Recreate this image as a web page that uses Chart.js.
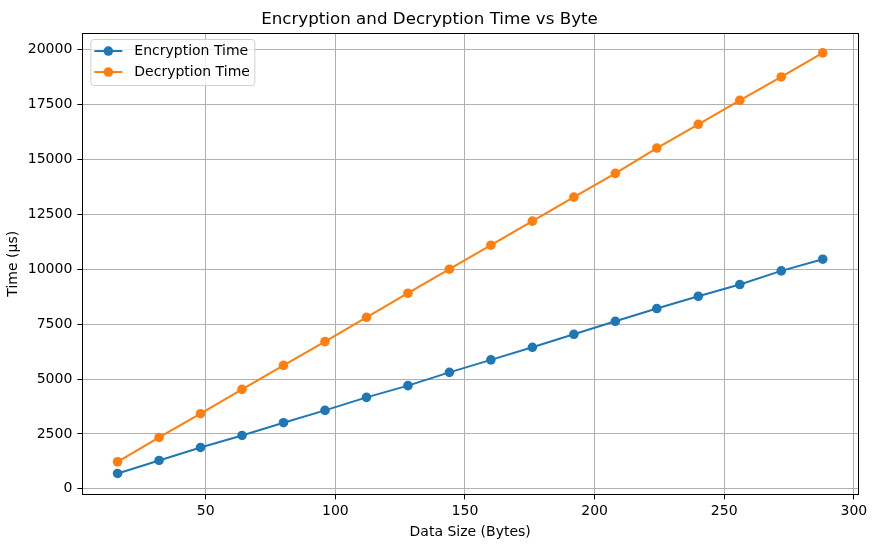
<!DOCTYPE html>
<html>
<head>
<meta charset="utf-8">
<script src="https://cdn.jsdelivr.net/npm/chart.js@4"></script>
<style>
  body { margin: 0; background: #fff; }
</style>
</head>
<body>
<canvas id="timeChart" width="877" height="547"></canvas>
<script>
// chart data
var dataSizes = [16, 32, 48, 64, 80, 96, 112, 128, 144, 160, 176, 192, 208, 224, 240, 256, 272, 288];
var encryptionTimes = [698, 1290, 1883, 2430, 3010, 3570, 4163, 4697, 5303, 5873, 6443, 7036, 7629, 8208, 8769, 9302, 9923, 10456];
var decryptionTimes = [1231, 2339, 3420, 4528, 5622, 6703, 7811, 8906, 10000, 11094, 12189, 13283, 14364, 15518, 16598, 17693, 18755, 19850];
var xTicks = [50, 100, 150, 200, 250, 300];
var yTicks = [0, 2500, 5000, 7500, 10000, 12500, 15000, 17500, 20000];

Chart.defaults.font.family = "'DejaVu Sans', sans-serif";
Chart.defaults.font.size = 14;
Chart.defaults.color = "#000";

function toPoints(values) {
    return dataSizes.map(function (s, i) {
        return { x: s, y: values[i] };
    });
}

// black frame round the plot area, like the matplotlib spines
var framePlugin = {
    id: "frame",
    afterDatasetsDraw: function (chart) {
        var a = chart.chartArea;
        var ctx = chart.ctx;
        ctx.save();
        ctx.strokeStyle = "#000";
        ctx.lineWidth = 1;
        ctx.strokeRect(Math.round(a.left) + 0.5, Math.round(a.top) + 0.5,
            Math.round(a.right - a.left), Math.round(a.bottom - a.top));
        ctx.restore();
    },
};

// legend drawn inside the plot, top left
var innerLegend = {
    id: "innerLegend",
    afterDraw: function (chart) {
        var a = chart.chartArea;
        var ctx = chart.ctx;
        var x = a.left + 8, y = a.top + 6, w = 164, h = 46;
        ctx.save();
        ctx.fillStyle = "rgba(255,255,255,0.8)";
        ctx.strokeStyle = "#d0d0d0";
        ctx.lineWidth = 1;
        ctx.beginPath();
        ctx.roundRect(x + 0.5, y + 0.5, w, h, 3);
        ctx.fill();
        ctx.stroke();
        chart.data.datasets.forEach(function (ds, i) {
            var cy = y + 12 + i * 21;
            ctx.strokeStyle = ds.borderColor;
            ctx.lineWidth = 2;
            ctx.beginPath();
            ctx.moveTo(x + 4, cy);
            ctx.lineTo(x + 32, cy);
            ctx.stroke();
            ctx.fillStyle = ds.borderColor;
            ctx.beginPath();
            ctx.arc(x + 18, cy, 4.8, 0, Math.PI * 2);
            ctx.fill();
            ctx.fillStyle = "#000";
            ctx.font = "14px 'DejaVu Sans', sans-serif";
            ctx.textBaseline = "middle";
            ctx.fillText(ds.label, x + 44, cy);
        });
        ctx.restore();
    },
};

var ctx = document.getElementById("timeChart").getContext("2d");
var timeChart = new Chart(ctx, {
    type: "line",
    data: {
        datasets: [
            {
                label: "Encryption Time",
                data: toPoints(encryptionTimes),
                borderColor: "#1f77b4",
                backgroundColor: "#1f77b4",
                pointBackgroundColor: "#1f77b4",
                borderWidth: 2,
                pointRadius: 4.8,
                pointBorderWidth: 0,
                tension: 0,
            },
            {
                label: "Decryption Time",
                data: toPoints(decryptionTimes),
                borderColor: "#ff7f0e",
                backgroundColor: "#ff7f0e",
                pointBackgroundColor: "#ff7f0e",
                borderWidth: 2,
                pointRadius: 4.8,
                pointBorderWidth: 0,
                tension: 0,
            },
        ],
    },
    options: {
        responsive: false,
        animation: false,
        layout: {
            padding: { left: 1, right: 19, top: 0, bottom: 5 },
        },
        scales: {
            x: {
                type: "linear",
                min: 2.4,
                max: 301.6,
                afterBuildTicks: function (scale) {
                    scale.ticks = xTicks.map(function (v) { return { value: v }; });
                },
                grid: {
                    color: "#b0b0b0",
                    lineWidth: 1,
                    tickColor: "#000",
                    tickLength: 5,
                },
                border: { color: "#000", width: 1 },
                ticks: { padding: 4, maxRotation: 0 },
                title: {
                    display: true,
                    text: "Data Size (Bytes)",
                    padding: { top: 0, bottom: 1 },
                },
            },
            y: {
                type: "linear",
                min: -255,
                max: 20755,
                afterBuildTicks: function (scale) {
                    scale.ticks = yTicks.map(function (v) { return { value: v }; });
                },
                grid: {
                    color: "#b0b0b0",
                    lineWidth: 1,
                    tickColor: "#000",
                    tickLength: 5,
                },
                border: { color: "#000", width: 1 },
                ticks: {
                    padding: 5,
                    callback: function (value) { return String(value); },
                },
                title: {
                    display: true,
                    text: "Time (µs)",
                    padding: { top: 4, bottom: 1 },
                },
            },
        },
        plugins: {
            legend: { display: false },
            tooltip: { enabled: false },
            title: {
                display: true,
                text: "Encryption and Decryption Time vs Byte",
                font: { size: 16.7, weight: "normal" },
                color: "#000",
                padding: { top: 10, bottom: 3 },
            },
        },
    },
    plugins: [framePlugin, innerLegend],
});
</script>
</body>
</html>
